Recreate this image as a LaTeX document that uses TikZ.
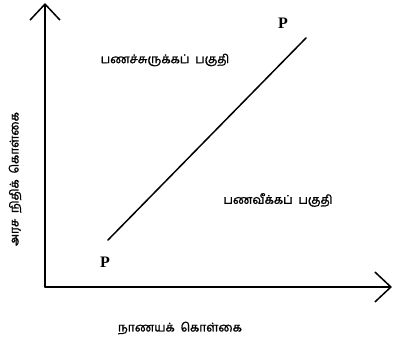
\documentclass[tikz,border=0pt]{standalone}
\usepackage{fontspec}
\setmainfont{Liberation Serif}
\newfontfamily\tamilfont[Script=Tamil,FakeBold=1.5]{Hind Madurai}
\usetikzlibrary{arrows.meta}

\begin{document}
\begin{tikzpicture}[line width=1.5pt, line cap=round, line join=round, >={Straight Barb[length=16pt,width=30pt]}, x=1pt,y=1pt,
  zone/.style={font=\tamilfont\fontsize{12}{14}\selectfont},
  pmark/.style={font=\bfseries\fontsize{16}{18}\selectfont}]
  \useasboundingbox (0,0) rectangle (400,339);
  % axes
  \coordinate (o) at (45,52);
  \coordinate (ytop) at (45,336);
  \coordinate (xend) at (392,52);
  \draw[->] (o) -- (ytop);
  \draw[->] (o) -- (xend);
  % policy line
  \coordinate (p1) at (108,99);
  \coordinate (p2) at (306,301);
  \draw (p1) -- (p2);
  \node[pmark] (plow) at (105,77) {P};
  \node[pmark] (phigh) at (283,316) {P};
  % regions and axis labels
  \node[zone] (defl) at (165,279) {பணச்சுருக்கப்\ \ பகுதி};
  \node[zone] (infl) at (278,139) {பணவீக்கப்\ \ பகுதி};
  \node[zone] (xlab) at (180,11) {நாணயக்\ \ கொள்கை};
  \node[zone, rotate=90] (ylab) at (15,160) {அரச\ \ நிதிக்\ \ கொள்கை};
\end{tikzpicture}
\end{document}
